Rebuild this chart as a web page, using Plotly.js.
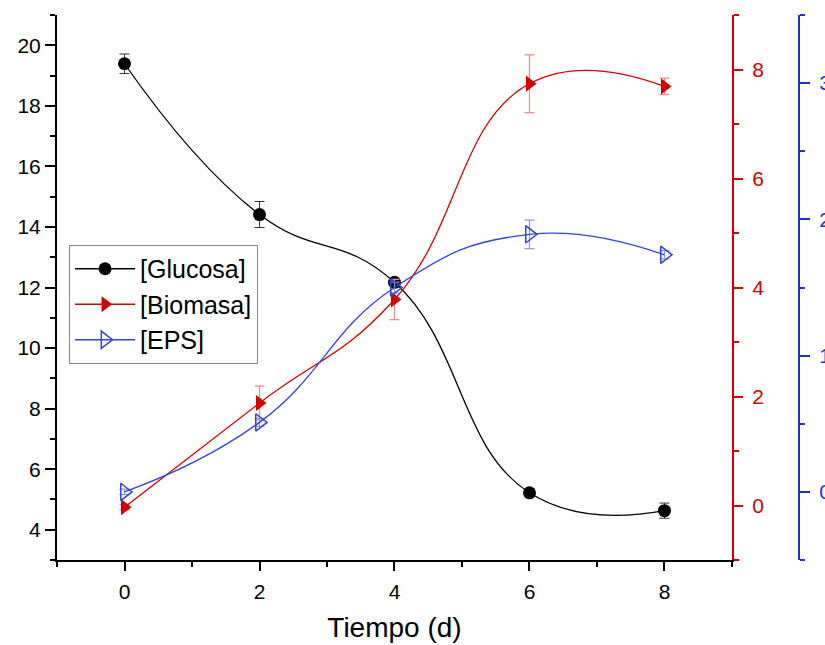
<!DOCTYPE html>
<html>
<head>
<meta charset="utf-8">
<script src="https://cdn.plot.ly/plotly-3.0.1.min.js"></script>
<style>html,body{margin:0;padding:0;background:#fff}#chart{width:825px;height:645px}</style>
</head>
<body>
<div id="chart"></div>
<script>
// Data
const tiempo = [0, 2, 4, 6, 8];
const glucosa = [19.39, 14.41, 12.17, 5.22, 4.63];
const glucosaErr = [0.32, 0.43, 0.1, 0.12, 0.25];
const biomasa = [-0.03, 1.88, 3.78, 7.74, 7.69];
const biomasaErr = [0.05, 0.31, 0.37, 0.53, 0.15];
const eps = [0.0, 0.51, 1.50, 1.89, 1.74];
const epsErr = [0.02, 0.03, 0.04, 0.105, 0.03];
const xTicks = [0, 2, 4, 6, 8];

const RED = '#d40000';
const BLUE = '#2233cc';
const FONT = 'Liberation Sans, Arial, sans-serif';

const traces = [
  {
    name: '[Glucosa]', x: tiempo, y: glucosa, type: 'scatter', mode: 'lines+markers',
    line: {color: '#000', width: 1.3, shape: 'spline', smoothing: 1.3},
    marker: {symbol: 'circle', size: 13, color: '#000'},
    error_y: {type: 'data', array: glucosaErr, color: '#333', thickness: 1, width: 5},
    yaxis: 'y'
  },
  {
    name: '[Biomasa]', x: tiempo, y: biomasa, type: 'scatter', mode: 'lines+markers',
    line: {color: RED, width: 1.3, shape: 'spline', smoothing: 1.3},
    marker: {symbol: 'triangle-right', size: 14, color: RED},
    error_y: {type: 'data', array: biomasaErr, color: '#ee8a8a', thickness: 1.2, width: 5},
    yaxis: 'y2'
  },
  {
    name: '[EPS]', x: tiempo, y: eps, type: 'scatter', mode: 'lines+markers',
    line: {color: '#3344dd', width: 1.3, shape: 'spline', smoothing: 1.3},
    marker: {symbol: 'triangle-right-open', size: 15, color: '#3344dd', line: {width: 1.5}},
    error_y: {type: 'data', array: epsErr, color: '#8e98e8', thickness: 1.2, width: 5},
    yaxis: 'y3'
  }
];

const layout = {
  width: 825, height: 645,
  margin: {l: 57, r: 15, t: 15, b: 85},
  paper_bgcolor: '#fff', plot_bgcolor: '#fff',
  font: {family: FONT, size: 22, color: '#000'},
  showlegend: true,
  legend: {
    x: 0.016, y: 0.578, xanchor: 'left', yanchor: 'top',
    bgcolor: '#fff', bordercolor: '#888', borderwidth: 1,
    font: {family: FONT, size: 25, color: '#000'},
    itemwidth: 60, tracegroupgap: 0, entrywidth: 200
  },
  xaxis: {
    domain: [0, 0.8964], range: [-1, 9],
    tickvals: xTicks, ticktext: xTicks.map(String),
    showgrid: false, zeroline: false, showline: true, linecolor: '#000', linewidth: 2,
    ticks: 'outside', ticklen: 9, tickwidth: 2, tickcolor: '#000',
    minor: {dtick: 1, tick0: 1, ticks: 'outside', ticklen: 5, tickwidth: 2, tickcolor: '#000'},
    tickfont: {size: 21}, ticklabelstandoff: 3,
    title: {text: 'Tiempo (d)', font: {size: 28}, standoff: 15}
  },
  yaxis: {
    range: [3, 21], dtick: 2, tick0: 0,
    showgrid: false, zeroline: false, showline: true, linecolor: '#000', linewidth: 2,
    ticks: 'outside', ticklen: 10, tickwidth: 2, tickcolor: '#000',
    minor: {dtick: 1, tick0: 1, ticks: 'outside', ticklen: 5, tickwidth: 2, tickcolor: '#000'},
    tickfont: {size: 21}
  },
  yaxis2: {
    overlaying: 'y', side: 'right', anchor: 'x', range: [-1, 9], dtick: 2, tick0: 0,
    showgrid: false, zeroline: false, showline: true, linecolor: RED, linewidth: 2,
    ticks: 'outside', ticklen: 9, tickwidth: 2, tickcolor: RED,
    minor: {dtick: 1, tick0: 1, ticks: 'outside', ticklen: 5, tickwidth: 2, tickcolor: RED},
    tickfont: {size: 21, color: RED}, ticklabelstandoff: 5
  },
  yaxis3: {
    overlaying: 'y', side: 'right', anchor: 'free', position: 0.9854,
    range: [-0.5, 3.5], dtick: 1, tick0: 0,
    showgrid: false, zeroline: false, showline: true, linecolor: BLUE, linewidth: 2,
    ticks: 'outside', ticklen: 10, tickwidth: 2, tickcolor: BLUE,
    minor: {dtick: 0.5, tick0: 0.5, ticks: 'outside', ticklen: 5, tickwidth: 2, tickcolor: BLUE},
    tickfont: {size: 21, color: BLUE}, ticklabelstandoff: 5
  }
};

Plotly.newPlot('chart', traces, layout, {displayModeBar: false, staticPlot: true});
</script>
</body>
</html>
